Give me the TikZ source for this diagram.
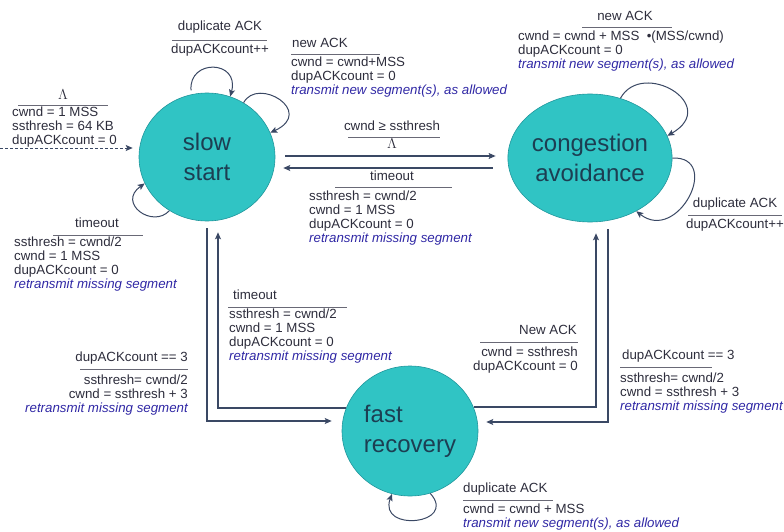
\documentclass[tikz,border=0pt]{standalone}
\usepackage{fontspec}
\setmainfont{Liberation Sans}
\usetikzlibrary{shapes.geometric,arrows.meta,calc}

\definecolor{statefill}{RGB}{48,196,196}
\definecolor{stateline}{RGB}{32,150,156}
\definecolor{statetext}{RGB}{28,62,82}
\definecolor{edge}{RGB}{58,72,100}
\definecolor{note}{RGB}{45,45,60}
\definecolor{action}{RGB}{48,40,165}
\definecolor{rulecol}{RGB}{105,105,118}

\newcommand{\actline}[1]{{\color{action}\itshape #1}}

\begin{document}
\begin{tikzpicture}[x=1pt,y=-1pt,
  state/.style={ellipse, draw=stateline, line width=0.6pt, fill=statefill,
    text=statetext, font=\fontsize{24}{30}\selectfont, inner sep=0pt,
    minimum width=136pt, minimum height=128pt},
  lbl/.style={inner sep=0pt, text=note, font=\fontsize{13.3}{13.8}\selectfont},
  guard/.style={draw=rulecol, line width=0.7pt},
  trans/.style={draw=edge, line width=1.1pt,
    -{Stealth[length=7pt,width=6pt,inset=1.5pt]}},
  loopedge/.style={trans, line width=1pt},
]
\useasboundingbox (0,0) rectangle (784,532);

% states
\node[state, align=center] (ss) at (207,157) {slow\\start};
\node[state, align=center] (ca) at (590,158) {congestion\\avoidance};
\node[state, align=left, minimum height=130pt] (fr) at (410,431) {fast\\recovery};

% initial transition
\coordinate (init) at (0,148);
\draw[trans, dashed, dash pattern=on 3pt off 2pt, line width=0.9pt, shorten >=6pt]
  (init) -- (init -| ss.west);
\node[lbl, anchor=mid] (l0a) at (63,97) {$\Lambda$};
\draw[guard] (18,105) -- (108,105);
\node[lbl, anchor=north west, align=left] (l0b) at (12,107)
  {cwnd = 1 MSS\\ssthresh = 64 KB\\dupACKcount = 0};

% slow start self loops (control points in canvas polar form)
\draw[loopedge, shorten <=4pt] (ss.104) .. controls +(95:36pt) and +(75:38pt) .. (ss.69);
\node[lbl, anchor=mid] (l1a) at (220,28) {duplicate ACK};
\draw[guard] (172,40) -- (267,40);
\node[lbl, anchor=mid] (l1b) at (220,51) {dupACKcount++};

\draw[loopedge] (ss.56) .. controls +(62:30pt) and +(25:50pt) .. (ss.21);
\node[lbl, anchor=mid west] (l2a) at (292,45) {new ACK};
\draw[guard] (291,54) -- (380,54);
\node[lbl, anchor=north west, align=left] (l2b) at (291,57)
  {cwnd = cwnd+MSS\\dupACKcount = 0\\\actline{transmit new segment(s), as allowed}};

\draw[loopedge] (ss.235) .. controls +(227:25pt) and +(215:34pt) .. (ss.203);
\node[lbl, anchor=mid] (l3a) at (97,225) {timeout};
\draw[guard] (53,235) -- (143,235);
\node[lbl, anchor=north west, align=left] (l3b) at (14,237)
  {ssthresh = cwnd/2\\cwnd = 1 MSS\\dupACKcount = 0\\\actline{retransmit missing segment}};

% slow start <-> congestion avoidance
\draw[trans] ($(ss.east)+(10,-1)$) -- ($(ca.west)+(-12,-2)$);
\node[lbl, anchor=mid] (l4a) at (392,128) {cwnd ≥ ssthresh};
\draw[guard] (348,137) -- (440,137);
\node[lbl, anchor=mid] (l4b) at (392,146) {$\Lambda$};

\draw[trans] ($(ca.west)+(-15,10)$) -- ($(ss.east)+(8,11)$);
\node[lbl, anchor=mid] (l5a) at (392,178) {timeout};
\draw[guard] (335,187) -- (452,187);
\node[lbl, anchor=north west, align=left] (l5b) at (309,191)
  {ssthresh = cwnd/2\\cwnd = 1 MSS\\dupACKcount = 0\\\actline{retransmit missing segment}};

% congestion avoidance self loops
\draw[loopedge] (ca.63) .. controls +(61:45pt) and +(30:62pt) .. (ca.16);
\node[lbl, anchor=mid] (l6a) at (625,18) {new ACK};
\draw[guard] (582,27) -- (672,27);
\node[lbl, anchor=north west, align=left] (l6b) at (518,31)
  {cwnd = cwnd + MSS~~•(MSS/cwnd)\\dupACKcount = 0\\\actline{transmit new segment(s), as allowed}};

\draw[loopedge] (ca.0) .. controls +(2:50pt) and +(-38:53pt) .. (ca.311);
\node[lbl, anchor=mid] (l7a) at (735,205) {duplicate ACK};
\draw[guard] (688,215) -- (782,215);
\node[lbl, anchor=mid] (l7b) at (735,226) {dupACKcount++};

% slow start <-> fast recovery
\draw[trans] ($(ss.south)+(0,7)$) |- ($(fr.west)+(-10,-10)$);
\node[lbl, anchor=mid east] (l8a) at (188,359) {dupACKcount == 3};
\draw[guard] (80,369) -- (188,369);
\node[lbl, anchor=north east, align=right] (l8b) at (188,375)
  {ssthresh= cwnd/2\\cwnd = ssthresh + 3\\\actline{retransmit missing segment}};

\draw[trans] ($(fr.west)+(4,-23)$) -| ($(ss.south)+(11,11)$);
\node[lbl, anchor=mid west] (l9a) at (233,297) {timeout};
\draw[guard] (228,307) -- (347,307);
\node[lbl, anchor=north west, align=left] (l9b) at (229,309)
  {ssthresh = cwnd/2\\cwnd = 1 MSS\\dupACKcount = 0\\\actline{retransmit missing segment}};

% congestion avoidance <-> fast recovery
\draw[trans] ($(ca.south)+(18,7)$) |- ($(fr.east)+(8,-9)$);
\node[lbl, anchor=mid west] (l10a) at (622,357) {dupACKcount == 3};
\draw[guard] (620,367) -- (712,367);
\node[lbl, anchor=north west, align=left] (l10b) at (620,373)
  {ssthresh= cwnd/2\\cwnd = ssthresh + 3\\\actline{retransmit missing segment}};

\draw[trans] ($(fr.east)+(-4,-24)$) -| ($(ca.south)+(6,11)$);
\node[lbl, anchor=mid east] (l11a) at (577,332) {New ACK};
\draw[guard] (480,342) -- (578,342);
\node[lbl, anchor=north east, align=right] (l11b) at (578,347)
  {cwnd = ssthresh\\dupACKcount = 0};

% fast recovery self loop
\draw[loopedge] (fr.288) .. controls +(-48:42pt) and +(-110:41pt) .. (fr.254);
\node[lbl, anchor=mid west] (l12a) at (463,490) {duplicate ACK};
\draw[guard] (463,500) -- (553,500);
\node[lbl, anchor=north west, align=left] (l12b) at (463,504)
  {cwnd = cwnd + MSS\\\actline{transmit new segment(s), as allowed}};
\end{tikzpicture}
\end{document}
